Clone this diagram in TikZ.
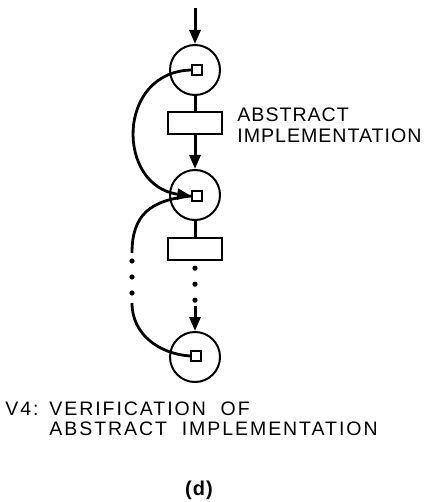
\documentclass[tikz,border=0pt]{standalone}
\usepackage{fontspec}
\usetikzlibrary{arrows.meta}
\newfontfamily\tagfont[LetterSpace=5]{Liberation Sans}
\newfontfamily\capfont[LetterSpace=10, WordSpace=2]{Liberation Sans}
\begin{document}
\begin{tikzpicture}[x=0.5pt, y=-0.5pt,
   place/.style={circle, draw, line width=1pt, minimum size=25pt, inner sep=0pt},
   token/.style={rectangle, draw, line width=0.8pt, minimum size=5pt, inner sep=0pt, fill=white},
   trans/.style={rectangle, draw, line width=1.2pt, minimum width=27pt, minimum height=11pt, inner sep=0pt},
   flow/.style={line width=1.5pt},
   arc/.style={line width=1.4pt},
   dots/.style={line width=2.6pt, line cap=round, dash pattern=on 0pt off 8pt},
   tip/.style={-{Triangle[length=7pt, width=5.5pt]}}]
         \useasboundingbox (0,0) rectangle (427,502);
         \coordinate (in) at (195,8);
         \node[place] (P1) at (195,70) {};
         \node[trans] (T1) at (195,123) {};
         \node[place] (P2) at (195,195) {};
         \node[trans] (T2) at (195,249) {};
         \node[place] (P3) at (195,357) {};
         \node[token] (S1) at (197,70) {};
         \node[token] (S2) at (197,196) {};
         \node[token] (S3) at (196,356) {};
         \coordinate (D) at (195,306);
         \coordinate (L1) at (132,253);
         \coordinate (L2) at (132,303);
         \draw[flow, tip] (in) -- (P1);
         \draw[flow] (P1) -- (T1);
         \draw[flow, tip] (T1) -- (P2);
         \draw[flow] (P2) -- (T2);
         \draw[dots, dash phase=4.5pt] (T2.south) -- (D);
         \draw[flow, tip] (D) -- (P3);
         \draw[arc, tip] (S1.west) .. controls (116,72) and (116,186) .. (S2.west);
         \draw[arc] (S2.west) .. controls (150,200) and (132,215) .. (L1);
         \draw[dots, dash phase=4pt] (L1) -- (L2);
         \draw[arc] (L2) .. controls (132,335) and (160,354) .. (S3.west);
         \node[anchor=base west, inner sep=0pt, align=left, font=\tagfont\fontsize{9.8}{10.5}\selectfont] (impl) at (237,143) {ABSTRACT\\IMPLEMENTATION};
         \node[anchor=base west, inner sep=0pt, font=\capfont\fontsize{9.75}{10}\selectfont] (vtag) at (5,415) {V4:};
         \node[anchor=base west, inner sep=0pt, align=left, font=\capfont\fontsize{9.75}{10}\selectfont] (vtext) at (49,435) {VERIFICATION OF\\ABSTRACT IMPLEMENTATION};
         \node[anchor=base, inner sep=0pt, font=\tagfont\bfseries\fontsize{10}{10}\selectfont] (sub) at (199,495) {(d)};
      \end{tikzpicture}
\end{document}
